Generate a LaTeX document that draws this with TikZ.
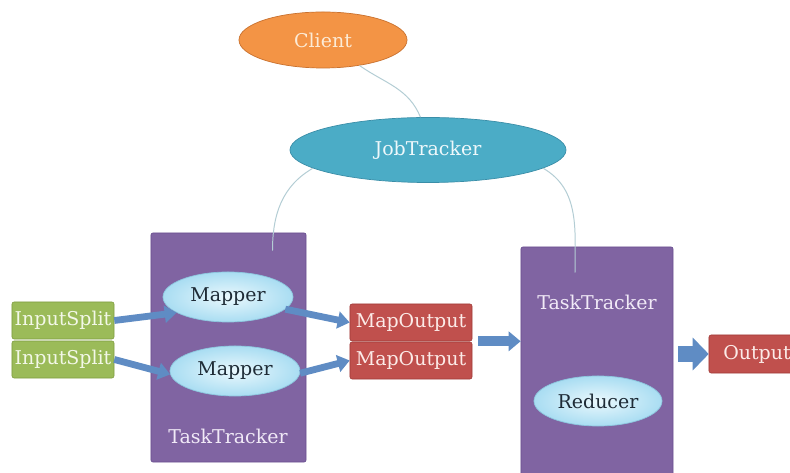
\documentclass[tikz,border=0pt]{standalone}
\usepackage{fontspec}
\setmainfont{DejaVu Serif}
\usetikzlibrary{shapes.geometric, arrows.meta}

\definecolor{clientfill}{HTML}{F39445}
\definecolor{clientedge}{HTML}{C9712E}
\definecolor{clientink}{HTML}{FCEBD6}
\definecolor{jobfill}{HTML}{4BACC6}
\definecolor{jobedge}{HTML}{3A8EA8}
\definecolor{jobink}{HTML}{EEF8FB}
\definecolor{trackpurple}{HTML}{8064A2}
\definecolor{trackedge}{HTML}{6A5090}
\definecolor{trackink}{HTML}{F1EAF7}
\definecolor{mapin}{HTML}{EAF8FD}
\definecolor{mapout}{HTML}{A9DDF2}
\definecolor{mapedge}{HTML}{8CC6DE}
\definecolor{mapink}{HTML}{1E2B36}
\definecolor{splitgreen}{HTML}{9BBB59}
\definecolor{splitedge}{HTML}{7E9C40}
\definecolor{splitink}{HTML}{F3F8E8}
\definecolor{resultred}{HTML}{C0504D}
\definecolor{resultedge}{HTML}{A03C39}
\definecolor{resultink}{HTML}{FCEBE8}
\definecolor{flowblue}{HTML}{5F8CC4}
\definecolor{linkgray}{HTML}{B3CDD4}

\begin{document}
\begin{tikzpicture}[x=0.025cm, y=0.025cm,
    label text/.style={font=\fontsize{13.5}{16}\selectfont},
    oval/.style={ellipse, inner sep=0pt, line width=0.5pt, label text},
    work/.style={oval, draw=mapedge, shading=radial, inner color=mapin, outer color=mapout, text=mapink, minimum width=3.25cm, minimum height=1.25cm},
    tracker/.style={rectangle, rounded corners=1.5pt, draw=trackedge, fill=trackpurple, line width=0.5pt},
    split/.style={rectangle, rounded corners=1.5pt, draw=splitedge, fill=splitgreen, text=splitink, inner sep=0pt, minimum width=2.55cm, minimum height=0.925cm, label text},
    result/.style={rectangle, rounded corners=1.5pt, draw=resultedge, fill=resultred, text=resultink, inner sep=0pt, minimum height=0.925cm, label text},
    link/.style={draw=linkgray, line width=0.7pt},
    flow/.style={draw=flowblue, line width=0.17cm, -{Triangle[length=0.3cm, width=0.42cm]}},
  ]
  \clip (0,0) rectangle (790,473);
  \fill[white] (0,0) rectangle (790,473);

  \node[oval, draw=clientedge, fill=clientfill, text=clientink, minimum width=4.2cm, minimum height=1.4cm] (client) at (323,433) {Client};
  \node[oval, draw=jobedge, fill=jobfill, text=jobink, minimum width=6.9cm, minimum height=1.625cm] (job) at (428,323) {JobTracker};

  \node[tracker, minimum width=3.875cm, minimum height=5.725cm] (tt1) at (228.5,125.5) {};
  \node[tracker, minimum width=3.8cm, minimum height=5.825cm] (tt2) at (597,109.5) {};
  \node[label text, text=trackink] (tt1-label) at (228,37) {TaskTracker};
  \node[label text, text=trackink] (tt2-label) at (597,171) {TaskTracker};

  \node[work] (map1) at (228,176) {Mapper};
  \node[work] (map2) at (235,102) {Mapper};
  \node[work, minimum width=3.2cm] (reduce) at (598,72) {Reducer};

  \node[split] (split1) at (63,152.5) {InputSplit};
  \node[split] (split2) at (63,113.5) {InputSplit};
  \node[result, minimum width=3.05cm] (mo1) at (411,150.5) {MapOutput};
  \node[result, minimum width=3.05cm] (mo2) at (411,112.5) {MapOutput};
  \node[result, minimum width=2.4cm, minimum height=0.95cm] (out) at (757,119) {Output};

  % hooks inside the task trackers
  \coordinate (hook1) at ([shift={(44,-18)}]tt1.north);
  \coordinate (hook2) at ([shift={(-22,-26)}]tt2.north);

  \draw[link] (client.-35) to[out=-35, in=112] (job.103);
  \draw[link] (job.189) to[out=-150, in=90] (hook1);
  \draw[link] (job.-9) to[out=-30, in=90] (hook2);

  \draw[flow] (split1.east) -- (map1.197);
  \draw[flow] (split2.east) -- (map2.183);
  \draw[flow] (map1.-12) -- (mo1.west);
  \draw[flow] (map2.-2) -- (mo2.west);
  \draw[flow, line width=0.25cm, -{Triangle[length=0.3cm, width=0.48cm]}] ([xshift=0.15cm]mo1.south east) -- (mo1.south east -| tt2.west);
  \draw[flow, line width=0.38cm, -{Triangle[length=0.4cm, width=0.8cm]}] ([xshift=0.12cm]tt2.east |- out.west) -- (out.west);
\end{tikzpicture}
\end{document}
